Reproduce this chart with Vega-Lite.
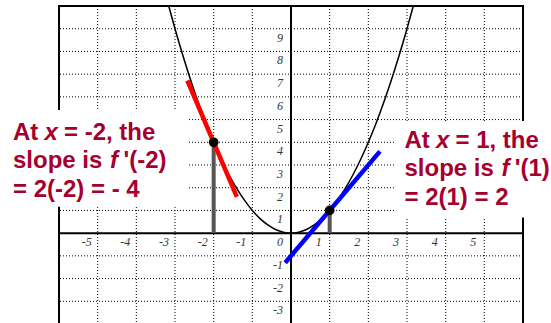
{
  "$schema": "https://vega.github.io/schema/vega-lite/v6.json",
  "width": 464,
  "height": 318,
  "autosize": {"type": "none"},
  "padding": {"left": 59, "top": 6, "right": 28, "bottom": 0},
  "background": "#ffffff",
  "config": {
    "view": {"stroke": "#000000", "strokeWidth": 2},
    "text": {"font": "Liberation Sans"}
  },
  "datasets": {
    "gridX": [
      {"x": -5}, {"x": -4}, {"x": -3}, {"x": -2}, {"x": -1},
      {"x": 1}, {"x": 2}, {"x": 3}, {"x": 4}, {"x": 5}
    ],
    "gridY": [
      {"y": -3}, {"y": -2}, {"y": -1}, {"y": 1}, {"y": 2}, {"y": 3},
      {"y": 4}, {"y": 5}, {"y": 6}, {"y": 7}, {"y": 8}, {"y": 9}
    ],
    "boxes": [
      {"x": -7.9, "x2": -2.66, "y": 1.16, "y2": 5.42},
      {"x": 2.69, "x2": 7.2, "y": 0.69, "y2": 4.94}
    ],
    "parabola": [
      {"x": -3.16, "y": 9.99}, {"x": -3.0, "y": 9.0}, {"x": -2.8, "y": 7.84},
      {"x": -2.6, "y": 6.76}, {"x": -2.4, "y": 5.76}, {"x": -2.2, "y": 4.84},
      {"x": -2.0, "y": 4.0}, {"x": -1.8, "y": 3.24}, {"x": -1.6, "y": 2.56},
      {"x": -1.4, "y": 1.96}, {"x": -1.2, "y": 1.44}, {"x": -1.0, "y": 1.0},
      {"x": -0.8, "y": 0.64}, {"x": -0.6, "y": 0.36}, {"x": -0.4, "y": 0.16},
      {"x": -0.2, "y": 0.04}, {"x": 0.0, "y": 0.0}, {"x": 0.2, "y": 0.04},
      {"x": 0.4, "y": 0.16}, {"x": 0.6, "y": 0.36}, {"x": 0.8, "y": 0.64},
      {"x": 1.0, "y": 1.0}, {"x": 1.2, "y": 1.44}, {"x": 1.4, "y": 1.96},
      {"x": 1.6, "y": 2.56}, {"x": 1.8, "y": 3.24}, {"x": 2.0, "y": 4.0},
      {"x": 2.2, "y": 4.84}, {"x": 2.4, "y": 5.76}, {"x": 2.6, "y": 6.76},
      {"x": 2.8, "y": 7.84}, {"x": 3.0, "y": 9.0}, {"x": 3.16, "y": 9.99}
    ],
    "drops": [
      {"x": -2, "y": 4, "y2": 0},
      {"x": 1, "y": 1, "y2": 0}
    ],
    "tangents": [
      {"tangent": "at -2", "x": -2.68, "y": 6.72},
      {"tangent": "at -2", "x": -1.4, "y": 1.6},
      {"tangent": "at 1", "x": -0.15, "y": -1.3},
      {"tangent": "at 1", "x": 2.3, "y": 3.6}
    ],
    "points": [
      {"x": -2, "y": 4},
      {"x": 1, "y": 1}
    ],
    "xLabels": [
      {"x": -5, "y": 0, "label": "-5"}, {"x": -4, "y": 0, "label": "-4"},
      {"x": -3, "y": 0, "label": "-3"}, {"x": -2, "y": 0, "label": "-2"},
      {"x": -1, "y": 0, "label": "-1"}, {"x": 0, "y": 0, "label": "0"},
      {"x": 1, "y": 0, "label": "1"}, {"x": 2, "y": 0, "label": "2"},
      {"x": 3, "y": 0, "label": "3"}, {"x": 4, "y": 0, "label": "4"},
      {"x": 5, "y": 0, "label": "5"}
    ],
    "yLabels": [
      {"x": 0, "y": 9, "label": "9"}, {"x": 0, "y": 8, "label": "8"},
      {"x": 0, "y": 7, "label": "7"}, {"x": 0, "y": 6, "label": "6"},
      {"x": 0, "y": 5, "label": "5"}, {"x": 0, "y": 4, "label": "4"},
      {"x": 0, "y": 3, "label": "3"}, {"x": 0, "y": 2, "label": "2"},
      {"x": 0, "y": 1, "label": "1"}, {"x": 0, "y": -1, "label": "-1"},
      {"x": 0, "y": -2, "label": "-2"}, {"x": 0, "y": -3, "label": "-3"}
    ],
    "notes": [
      {"x": -7.19, "y": 4.11, "text": "At"},
      {"x": -5.871, "y": 4.11, "text": "= -2, the"},
      {"x": -7.19, "y": 2.87, "text": "slope is"},
      {"x": -4.33, "y": 2.87, "text": "'(-2)"},
      {"x": -7.19, "y": 1.6, "text": "= 2(-2) = - 4"},
      {"x": 2.935, "y": 3.76, "text": "At"},
      {"x": 4.254, "y": 3.76, "text": "= 1, the"},
      {"x": 2.935, "y": 2.51, "text": "slope is"},
      {"x": 5.785, "y": 2.51, "text": "'(1)"},
      {"x": 2.935, "y": 1.24, "text": "= 2(1) = 2"}
    ],
    "notesItalic": [
      {"x": -6.375, "y": 4.11, "text": "x"},
      {"x": -4.68, "y": 2.87, "text": "f"},
      {"x": 3.75, "y": 3.76, "text": "x"},
      {"x": 5.445, "y": 2.51, "text": "f"}
    ]
  },
  "layer": [
    {
      "data": {"name": "gridX"},
      "mark": {"type": "rule", "color": "#000000", "strokeWidth": 1, "strokeDash": [1, 2]},
      "encoding": {
        "x": {"field": "x", "type": "quantitative", "axis": null,
              "scale": {"domain": [-6, 6], "nice": false, "zero": false}}
      }
    },
    {
      "data": {"name": "gridY"},
      "mark": {"type": "rule", "color": "#000000", "strokeWidth": 1, "strokeDash": [1, 2]},
      "encoding": {
        "y": {"field": "y", "type": "quantitative", "axis": null,
              "scale": {"domain": [-4, 10], "nice": false, "zero": false}}
      }
    },
    {
      "data": {"name": "boxes"},
      "mark": {"type": "rect", "fill": "#ffffff", "stroke": null},
      "encoding": {
        "x": {"field": "x", "type": "quantitative", "axis": null},
        "x2": {"field": "x2"},
        "y": {"field": "y", "type": "quantitative", "axis": null},
        "y2": {"field": "y2"}
      }
    },
    {
      "data": {"values": [{"x": 0}]},
      "mark": {"type": "rule", "color": "#000000", "strokeWidth": 2},
      "encoding": {"x": {"field": "x", "type": "quantitative", "axis": null}}
    },
    {
      "data": {"values": [{"y": 0}]},
      "mark": {"type": "rule", "color": "#000000", "strokeWidth": 2},
      "encoding": {"y": {"field": "y", "type": "quantitative", "axis": null}}
    },
    {
      "data": {"name": "parabola"},
      "mark": {"type": "line", "color": "#000000", "strokeWidth": 1.5, "interpolate": "monotone"},
      "encoding": {
        "x": {"field": "x", "type": "quantitative", "axis": null},
        "y": {"field": "y", "type": "quantitative", "axis": null}
      }
    },
    {
      "data": {"name": "drops"},
      "mark": {"type": "rule", "color": "#555555", "strokeWidth": 4},
      "encoding": {
        "x": {"field": "x", "type": "quantitative", "axis": null},
        "y": {"field": "y", "type": "quantitative", "axis": null},
        "y2": {"field": "y2"}
      }
    },
    {
      "data": {"name": "tangents"},
      "mark": {"type": "line", "strokeWidth": 4.5, "strokeCap": "butt"},
      "encoding": {
        "x": {"field": "x", "type": "quantitative", "axis": null},
        "y": {"field": "y", "type": "quantitative", "axis": null},
        "color": {
          "field": "tangent", "type": "nominal", "legend": null,
          "scale": {"domain": ["at -2", "at 1"], "range": ["#FF0000", "#0000FF"]}
        }
      }
    },
    {
      "data": {"name": "points"},
      "mark": {"type": "circle", "color": "#000000", "opacity": 1, "size": 95},
      "encoding": {
        "x": {"field": "x", "type": "quantitative", "axis": null},
        "y": {"field": "y", "type": "quantitative", "axis": null}
      }
    },
    {
      "data": {"name": "xLabels"},
      "mark": {"type": "text", "font": "Liberation Serif", "fontStyle": "italic", "fontSize": 12, "color": "#333333", "align": "center", "baseline": "middle", "dx": -11, "dy": 9},
      "encoding": {
        "x": {"field": "x", "type": "quantitative", "axis": null},
        "y": {"field": "y", "type": "quantitative", "axis": null},
        "text": {"field": "label"}
      }
    },
    {
      "data": {"name": "yLabels"},
      "mark": {"type": "text", "font": "Liberation Serif", "fontStyle": "italic", "fontSize": 12, "color": "#333333", "align": "right", "baseline": "middle", "dx": -8, "dy": 9},
      "encoding": {
        "x": {"field": "x", "type": "quantitative", "axis": null},
        "y": {"field": "y", "type": "quantitative", "axis": null},
        "text": {"field": "label"}
      }
    },
    {
      "data": {"name": "notes"},
      "mark": {"type": "text", "font": "Liberation Sans", "fontWeight": "bold", "fontSize": 24, "color": "#A5002E", "align": "left", "baseline": "alphabetic"},
      "encoding": {
        "x": {"field": "x", "type": "quantitative", "axis": null},
        "y": {"field": "y", "type": "quantitative", "axis": null},
        "text": {"field": "text"}
      }
    },
    {
      "data": {"name": "notesItalic"},
      "mark": {"type": "text", "font": "Liberation Sans", "fontWeight": "bold", "fontStyle": "italic", "fontSize": 24, "color": "#A5002E", "align": "left", "baseline": "alphabetic"},
      "encoding": {
        "x": {"field": "x", "type": "quantitative", "axis": null},
        "y": {"field": "y", "type": "quantitative", "axis": null},
        "text": {"field": "text"}
      }
    }
  ]
}
